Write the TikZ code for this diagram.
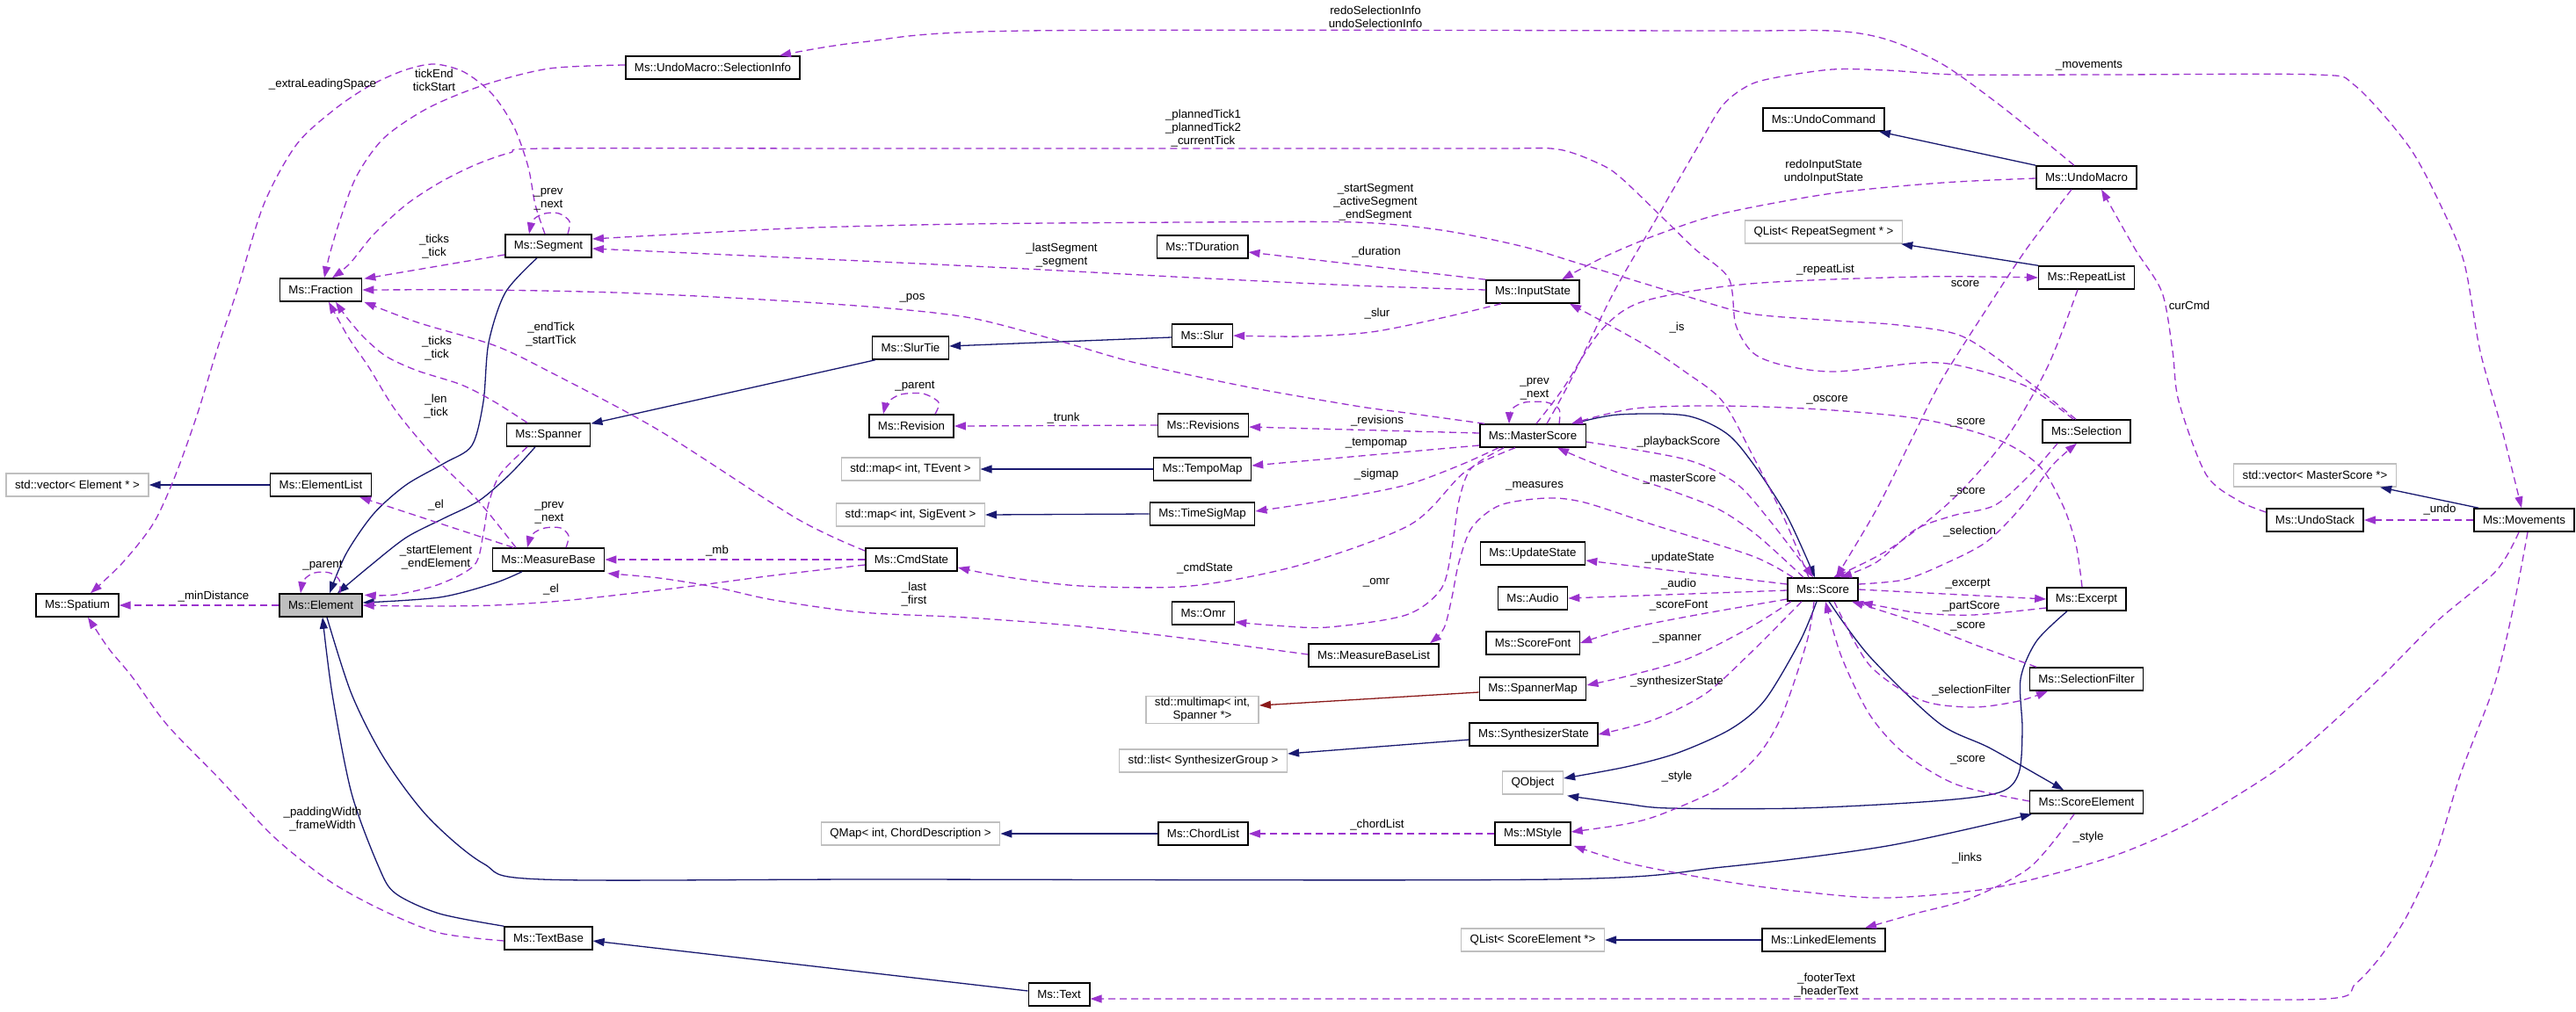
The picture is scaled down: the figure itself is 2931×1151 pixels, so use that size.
\documentclass[tikz,border=0pt]{standalone}
\usepackage{fontspec}
\setmainfont{Liberation Sans}
\usetikzlibrary{arrows.meta}
\definecolor{purp}{HTML}{9A32CD}
\definecolor{navy}{HTML}{191970}
\definecolor{dred}{HTML}{8B1A1A}
\definecolor{extb}{HTML}{BFBFBF}
\definecolor{elfill}{HTML}{BFBFBF}
\newcommand\gfont{\fontsize{13.3}{15}\selectfont}
\begin{document}
\begin{tikzpicture}[x=1pt,y=-1pt,
  cls/.style={draw=black, line width=1.5pt, fill=white, minimum height=26pt, inner xsep=10pt, inner ysep=2pt, font=\gfont},
  ext/.style={cls, draw=extb},
  uses/.style={draw=purp, line width=1.3pt, dash pattern=on 8pt off 5pt, -{Triangle[length=13pt,width=9pt]}},
  inh/.style={draw=navy, line width=1.3pt, -{Triangle[length=13pt,width=9pt]}},
  tmpl/.style={inh, draw=dred},
  lab/.style={font=\gfont, align=center, inner sep=0pt}]
\useasboundingbox[fill=white] (0,0) rectangle (2931,1151);

% ---------- nodes ----------
\node[cls] (selinfo) at (811,77) {Ms::UndoMacro::SelectionInfo};
\node[cls] (segment) at (624,280) {Ms::Segment};
\node[cls] (fraction) at (365,330) {Ms::Fraction};
\node[ext] (vecel) at (88,552) {std::vector< Element * >};
\node[cls] (elist) at (365,552) {Ms::ElementList};
\node[cls] (spanner) at (624,495) {Ms::Spanner};
\node[cls] (mbase) at (624,637) {Ms::MeasureBase};
\node[cls,fill=elfill] (element) at (365,689) {Ms::Element};
\node[cls] (spatium) at (88,689) {Ms::Spatium};
\node[cls] (textbase) at (624,1068) {Ms::TextBase};
\node[cls] (text) at (1205,1132) {Ms::Text};
\node[ext] (qmap) at (1036,949) {QMap< int, ChordDescription >};
\node[cls] (chordlist) at (1369,949) {Ms::ChordList};
\node[cls] (mstyle) at (1744,949) {Ms::MStyle};
\node[ext] (qlistse) at (1744,1070) {QList< ScoreElement *>};
\node[cls] (linked) at (2075,1070) {Ms::LinkedElements};
\node[cls] (scoreel) at (2374,913) {Ms::ScoreElement};
\node[ext] (qobject) at (1744,891) {QObject};
\node[ext] (stdlist) at (1369,866) {std::list< SynthesizerGroup >};
\node[cls] (synth) at (1745,836) {Ms::SynthesizerState};
\node[ext,align=center] (multimap) at (1368,808) {std::multimap< int,\\Spanner *>};
\node[cls] (spmap) at (1744,784) {Ms::SpannerMap};
\node[cls] (selfilter) at (2374,773) {Ms::SelectionFilter};
\node[cls] (mbl) at (1563,746) {Ms::MeasureBaseList};
\node[cls] (scorefont) at (1744,732) {Ms::ScoreFont};
\node[cls] (omr) at (1369,698) {Ms::Omr};
\node[cls] (audio) at (1744,681) {Ms::Audio};
\node[cls] (score) at (2074,671) {Ms::Score};
\node[cls] (excerpt) at (2374,682) {Ms::Excerpt};
\node[cls] (cmdstate) at (1037,637) {Ms::CmdState};
\node[cls] (upstate) at (1744,630) {Ms::UpdateState};
\node[cls] (undostack) at (2634,592) {Ms::UndoStack};
\node[cls] (movements) at (2872,592) {Ms::Movements};
\node[ext] (mapsig) at (1036,586) {std::map< int, SigEvent >};
\node[cls] (tsmap) at (1368,585) {Ms::TimeSigMap};
\node[ext] (vecms) at (2634,541) {std::vector< MasterScore *>};
\node[ext] (mapt) at (1036,534) {std::map< int, TEvent >};
\node[cls] (tempomap) at (1368,534) {Ms::TempoMap};
\node[cls] (master) at (1744,496) {Ms::MasterScore};
\node[cls] (revision) at (1037,485) {Ms::Revision};
\node[cls] (revisions) at (1369,484) {Ms::Revisions};
\node[cls] (selection) at (2374,491) {Ms::Selection};
\node[cls] (slurtie) at (1036,396) {Ms::SlurTie};
\node[cls] (slur) at (1368,382) {Ms::Slur};
\node[cls] (inputstate) at (1744,332) {Ms::InputState};
\node[cls] (tduration) at (1368,281) {Ms::TDuration};
\node[ext] (qlistrs) at (2075,264) {QList< RepeatSegment * >};
\node[cls] (repeatlist) at (2374,316) {Ms::RepeatList};
\node[cls] (undomacro) at (2374,202) {Ms::UndoMacro};
\node[cls] (undocmd) at (2075,136) {Ms::UndoCommand};

% ---------- inheritance (solid) ----------
\draw[inh] (undomacro.north west) -- ([xshift=63pt]undocmd.south);
\draw[inh] (repeatlist.north west) -- ([xshift=-2pt]qlistrs.south east);
\draw[inh] ([yshift=-2pt]slur.west) -- ([yshift=2pt]slurtie.east);
\draw[inh] ([xshift=4pt]slurtie.south west) -- ([yshift=-1pt]spanner.north east);
\draw[inh] plot[smooth] coordinates {([xshift=-15pt]spanner.south) (580,540) (545,570) (505,590) (462,612) (420,645) ([xshift=19pt]element.north)};
\draw[inh] plot[smooth] coordinates {([xshift=-13pt]segment.south) (575,333) (556,390) (550,457) (537,507) (506,527) (462,552) (425,585) (394,630) ([xshift=10pt]element.north)};
\draw[inh] plot[smooth] coordinates {([xshift=-30pt]mbase.south) (562,664) (500,680) ([yshift=3pt]element.east)};
\draw[inh] (elist.west) -- (vecel.east);
\draw[inh] (tempomap.west) -- (mapt.east);
\draw[inh] (tsmap.west) -- (mapsig.east);
\draw[inh] (chordlist.west) -- (qmap.east);
\draw[inh] ([yshift=-6pt]synth.west) -- ([yshift=8pt]stdlist.east);
\draw[tmpl] ([yshift=-4pt]spmap.west) -- ([yshift=5pt]multimap.east);
\draw[inh] (linked.west) -- (qlistse.east);
\draw[inh] ([xshift=6pt]movements.north west) -- ([xshift=-19pt]vecms.south east);
\draw[inh] plot[smooth] coordinates {([xshift=46pt]master.north) (1841,472) (1918,473) (1964,493) (1994,527) (2033,587) ([xshift=-9pt]score.north)};
\draw[inh] plot[smooth] coordinates {([xshift=-7pt]score.south) (2048,730) (2008,797) (1969,830) (1909,857) (1850,873) ([yshift=5pt]qobject.east)};
\draw[inh] plot[smooth] coordinates {([xshift=-22pt]excerpt.south) (2317,730) (2299,773) (2301,830) (2297,880) (2275,902) (2200,912) (2048,920) (1900,920) (1850,915) ([xshift=4pt,yshift=-1pt]qobject.south east)};
\draw[inh] plot[smooth] coordinates {([xshift=7pt]score.south) (2127,747) (2206,823) (2265,852) ([xshift=-26pt]scoreel.north)};
\draw[inh] plot[smooth] coordinates {([xshift=7pt]element.south) (400,790) (437,863) (487,930) (550,983) (616,1001) (1000,1001) (1767,1001) (1960,987) (2147,963) ([xshift=3pt]scoreel.south west)};
\draw[inh] plot[smooth] coordinates {(textbase.north west) (500,1040) (450,1017) (431,987) (400,903) (378,790) ([xshift=2pt]element.south)};
\draw[inh] ([yshift=4pt]text.west) -- ([yshift=-3pt]textbase.east);

% ---------- usage (dashed) ----------
\draw[uses] (element.west) -- (spatium.east);
\draw[uses] plot[smooth] coordinates {([xshift=-4pt]segment.north) (609,233) (601,190) (585,145) (560,107) (528,82) (494,73) (460,80) (420,98) (380,125) (337,165) (300,233) (269,333) (247,398) (225,470) (200,540) (175,595) (140,640) ([xshift=15pt]spatium.north)};
\draw[uses] plot[smooth] coordinates {([xshift=22pt]segment.north) (648,252) (636,243) (620,243) (607,250) ([xshift=-22pt]segment.north)};
\draw[uses] plot[smooth] coordinates {([yshift=3pt]selinfo.west) (625,78) (550,97) (487,123) (437,157) (406,200) (387,250) (375,290) ([xshift=4pt]fraction.north)};
\draw[uses] ([yshift=-10pt]segment.west) -- ([xshift=2pt,yshift=-1pt]fraction.north east);
\draw[uses] plot[smooth] coordinates {([xshift=-15pt]selection.north) (2306,440) (2233,417) (2185,413) (2088,423) (2030,416) (1995,402) (1975,370) (1967,317) (1928,283) (1894,250) (1845,203) (1821,187) (1773,170) (1700,169) (1400,169) (980,169) (620,169) (580,174) (540,188) (500,208) (462,233) (425,267) (398,300) ([xshift=13pt]fraction.north)};
\draw[uses] plot[smooth] coordinates {([xshift=6pt]master.north west) (1600,470) (1542,462) (1417,440) (1292,413) (1205,388) (1105,362) (1000,350) (850,340) (700,333) (550,330) (fraction.east)};
\draw[uses] plot[smooth] coordinates {([xshift=-24pt]spanner.north) (562,457) (525,438) (475,422) (440,406) (415,385) (395,362) ([xshift=17pt]fraction.south)};
\draw[uses] plot[smooth] coordinates {([xshift=-37pt]mbase.north) (544,570) (494,520) (450,467) (419,417) (397,385) ([xshift=9pt]fraction.south)};
\draw[uses] plot[smooth] coordinates {([yshift=10pt]cmdstate.west) (906,590) (750,490) (625,423) (562,393) (475,367) ([xshift=2pt]fraction.south east)};
\draw[uses] plot[smooth] coordinates {([xshift=-12pt]selection.north) (2306,433) (2233,383) (2160,370) (2088,365) (1991,357) (1918,337) (1797,300) (1730,280) (1640,262) (1542,253) (1355,253) (1100,255) (900,260) ([yshift=8pt]segment.east)};
\draw[uses] plot[smooth] coordinates {([yshift=2pt]inputstate.west) (1542,325) (1355,316) (1167,306) (980,297) ([yshift=-3pt]segment.east)};
\draw[uses] plot[smooth] coordinates {([xshift=-14pt]undomacro.north) (2322,157) (2272,117) (2210,73) (2147,45) (2085,35) (1960,35) (1167,35) (980,48) ([xshift=76pt]selinfo.north)};
\draw[uses] plot[smooth] coordinates {([yshift=-1pt]undomacro.west) (2210,208) (2085,220) (1960,243) (1886,267) (1824,293) ([xshift=33pt]inputstate.north)};
\draw[uses] plot[smooth] coordinates {([xshift=-16pt]score.north) (2030,590) (1995,520) (1960,457) (1917,423) (1867,390) ([xshift=42pt]inputstate.south)};
\draw[uses] (inputstate.north west) -- ([yshift=-6pt]tduration.east);
\draw[uses] plot[smooth] coordinates {([xshift=-36pt]inputstate.south) (1640,362) (1560,378) (1480,383) (slur.east)};
\draw[uses] plot[smooth] coordinates {([xshift=30pt]master.north) (1774,466) (1760,458) (1735,458) (1720,466) ([xshift=-27pt]master.north)};
\draw[uses] ([yshift=3pt]master.west) -- ([yshift=-2pt]revisions.east);
\draw[uses] ([yshift=-11pt]master.west) -- ([yshift=4pt]tempomap.east);
\draw[uses] plot[smooth] coordinates {([xshift=-39pt]master.south) (1660,530) (1600,552) (1520,568) ([yshift=3pt]tsmap.east)};
\draw[uses] plot[smooth] coordinates {([xshift=-20pt]master.south) (1667,537) (1605,597) (1480,643) (1355,667) (1230,667) (1140,656) ([yshift=-9pt]cmdstate.east)};
\draw[uses] plot[smooth] coordinates {([xshift=-33pt]master.south) (1674,533) (1660,570) (1652,623) (1640,670) (1600,700) (1511,714) (1450,712) ([yshift=-10pt]omr.east)};
\draw[uses] plot[smooth] coordinates {([xshift=-34pt]score.north) (1994,633) (1880,597) (1803,572) (1760,567) (1707,575) (1675,600) (1660,640) (1652,680) (1643,715) ([xshift=64pt]mbl.north)};
\draw[uses] plot[smooth] coordinates {([xshift=-22pt]score.north) (2000,610) (1956,580) (1900,558) (1841,538) (1800,522) ([xshift=28pt]master.south)};
\draw[uses] plot[smooth] coordinates {([yshift=-7pt]master.east) (1918,523) (1975,550) (2014,593) ([xshift=-11pt]score.north)};
\draw[uses] plot[smooth] coordinates {([xshift=-5pt]excerpt.north) (2362,620) (2347,575) (2320,530) (2272,500) (2186,477) (2071,466) (1956,462) (1860,465) ([xshift=44pt]master.north)};
\draw[uses] plot[smooth] coordinates {([xshift=-10pt]repeatlist.south) (2330,417) (2282,500) (2220,570) (2150,625) ([xshift=12pt]score.north)};
\draw[uses] plot[smooth] coordinates {([xshift=-17pt]undomacro.south) (2306,283) (2257,357) (2209,433) (2175,500) (2135,580) ([xshift=15pt]score.north)};
\draw[uses] plot[smooth] coordinates {([xshift=4pt]master.north) (1778,443) (1821,377) (1870,343) (1991,323) (2185,315) (repeatlist.west)};
\draw[uses] plot[smooth] coordinates {([xshift=16pt]master.north) (1787,433) (1836,333) (1884,250) (1930,170) (1960,120) (1990,97) (2022,88) (2085,79) (2147,80) (2229,85) (2400,85) (2635,85) (2679,97) (2741,167) (2780,240) (2804,300) (2822,400) (2847,490) ([xshift=-3pt]movements.north)};
\draw[uses] plot[smooth] coordinates {([yshift=9pt]undostack.west) (2547,570) (2510,540) (2479,457) (2472,400) (2460,333) (2429,283) ([xshift=17pt]undomacro.south)};
\draw[uses] plot[smooth] coordinates {([yshift=6pt]score.east) (2166,660) (2210,643) (2260,617) (2300,577) (2335,530) ([xshift=-11pt]selection.south)};
\draw[uses] plot[smooth] coordinates {([xshift=-33pt]selection.south) (2310,540) (2270,575) (2222,587) (2179,603) (2135,640) ([xshift=20pt]score.north)};
\draw[uses] (score.east) -- (excerpt.west);
\draw[uses] plot[smooth] coordinates {([yshift=-10pt]excerpt.west) (2245,700) (2186,698) (2150,692) ([xshift=3pt,yshift=-1pt]score.south east)};
\draw[uses] plot[smooth] coordinates {([xshift=-57pt]selfilter.north) (2250,735) (2180,708) ([xshift=33pt]score.south)};
\draw[uses] plot[smooth] coordinates {([xshift=13pt]score.south) (2127,757) (2186,797) (2245,805) (2297,798) ([xshift=-44pt]selfilter.south)};
\draw[uses] plot[smooth] coordinates {([yshift=1pt]scoreel.west) (2226,893) (2166,857) (2127,813) (2095,747) ([xshift=3pt]score.south)};
\draw[uses] ([yshift=6pt]score.west) -- ([yshift=-8pt]upstate.east);
\draw[uses] ([yshift=-1pt]score.west) -- (audio.east);
\draw[uses] plot[smooth] coordinates {([yshift=-11pt]score.west) (1930,700) (1850,716) (scorefont.east)};
\draw[uses] plot[smooth] coordinates {([xshift=-36pt]score.south) (1990,715) (1920,750) (1850,770) ([yshift=4pt]spmap.east)};
\draw[uses] plot[smooth] coordinates {([xshift=-24pt]score.south) (1990,745) (1940,790) (1880,820) (synth.east)};
\draw[uses] plot[smooth] coordinates {([xshift=-10pt]score.south) (2056,730) (2028,813) (2000,860) (1957,897) (1890,927) (1850,938) ([yshift=2pt]mstyle.east)};
\draw[uses] (mstyle.west) -- (chordlist.east);
\draw[uses] plot[smooth] coordinates {([xshift=-6pt]movements.south) (2840,650) (2773,707) (2710,770) (2640,835) (2585,880) (2491,937) (2397,977) (2272,1010) (2147,1022) (2050,1015) (1960,1003) (1855,983) ([xshift=3pt]mstyle.south east)};
\draw[uses] plot[smooth] coordinates {([xshift=4pt]movements.south) (2860,690) (2838,780) (2800,880) (2772,970) (2740,1040) (2710,1087) (2680,1120) (2647,1137) (2400,1137) (1800,1137) ([yshift=-5pt]text.east)};
\draw[uses] (movements.west) -- (undostack.east);
\draw[uses] plot[smooth] coordinates {([xshift=-14pt]scoreel.south) (2310,987) (2241,1023) (2179,1040) ([xshift=47pt]linked.north)};
\draw[uses] plot[smooth] coordinates {([xshift=27pt]revision.north) (1068,458) (1050,448) (1025,449) (1010,458) ([xshift=-32pt]revision.north)};
\draw[uses] (revisions.west) -- (revision.east);
\draw[uses] plot[smooth] coordinates {([xshift=22pt]element.north) (386,660) (375,652) (358,652) (346,660) ([xshift=-23pt]element.north)};
\draw[uses] plot[smooth] coordinates {([xshift=-24pt]spanner.south) (569,540) (556,573) (550,607) (540,643) (500,665) (450,677) ([xshift=2pt,yshift=-2pt]element.north east)};
\draw[uses] plot[smooth] coordinates {([xshift=20pt]mbase.north) (647,610) (638,601) (620,601) (606,608) ([xshift=-24pt]mbase.north)};
\draw[uses] ([xshift=-40pt]mbase.north) -- ([xshift=44pt]elist.south);
\draw[uses] (cmdstate.west) -- (mbase.east);
\draw[uses] plot[smooth] coordinates {([yshift=-6pt]cmdstate.west) (880,655) (781,668) (650,683) (562,689) (480,690) (element.east)};
\draw[uses] plot[smooth] coordinates {([yshift=1pt]mbl.west) (1360,728) (1230,713) (1100,703) (980,697) (880,683) (812,668) (750,658) ([xshift=3pt,yshift=-2pt]mbase.south east)};
\draw[uses] plot[smooth] coordinates {([yshift=-3pt]textbase.west) (500,1062) (437,1037) (375,1003) (312,953) (250,887) (190,825) (150,770) (125,740) (108,715) ([xshift=12pt]spatium.south)};

% ---------- labels ----------
\node[lab] (l1) at (243,679) {\_minDistance};
\node[lab] (l2) at (367,96) {\_extraLeadingSpace};
\node[lab] (l3) at (624,227) {\_prev\\\_next};
\node[lab] (l4) at (494,91) {tickEnd\\tickStart};
\node[lab] (l5) at (494,280) {\_ticks\\\_tick};
\node[lab] (l6) at (1369,146) {\_plannedTick1\\\_plannedTick2\\\_currentTick};
\node[lab] (l7) at (1038,339) {\_pos};
\node[lab] (l8) at (497,396) {\_ticks\\\_tick};
\node[lab] (l9) at (496,462) {\_len\\\_tick};
\node[lab] (l10) at (627,380) {\_endTick\\\_startTick};
\node[lab] (l11) at (1565,230) {\_startSegment\\\_activeSegment\\\_endSegment};
\node[lab] (l12) at (1208,291) {\_lastSegment\\\_segment};
\node[lab] (l13) at (1565,19) {redoSelectionInfo\\undoSelectionInfo};
\node[lab] (l14) at (2075,196) {redoInputState\\undoInputState};
\node[lab] (l15) at (1908,373) {\_is};
\node[lab] (l16) at (1566,287) {\_duration};
\node[lab] (l17) at (1567,357) {\_slur};
\node[lab] (l18) at (1746,443) {\_prev\\\_next};
\node[lab] (l19) at (1567,479) {\_revisions};
\node[lab] (l20) at (1566,505) {\_tempomap};
\node[lab] (l21) at (1566,540) {\_sigmap};
\node[lab] (l22) at (1371,647) {\_cmdState};
\node[lab] (l23) at (1566,663) {\_omr};
\node[lab] (l24) at (1746,553) {\_measures};
\node[lab] (l25) at (1911,545) {\_masterScore};
\node[lab] (l26) at (1910,503) {\_playbackScore};
\node[lab] (l27) at (2079,455) {\_oscore};
\node[lab] (l28) at (2239,481) {\_score};
\node[lab] (l29) at (2236,323) {score};
\node[lab] (l30) at (2077,307) {\_repeatList};
\node[lab] (l31) at (2377,75) {\_movements};
\node[lab] (l32) at (2491,348) {curCmd};
\node[lab] (l33) at (2241,605) {\_selection};
\node[lab] (l34) at (2239,560) {\_score};
\node[lab] (l35) at (2239,665) {\_excerpt};
\node[lab] (l36) at (2243,690) {\_partScore};
\node[lab] (l37) at (2239,713) {\_score};
\node[lab] (l38) at (2243,786) {\_selectionFilter};
\node[lab] (l39) at (2239,865) {\_score};
\node[lab] (l40) at (1911,635) {\_updateState};
\node[lab] (l41) at (1910,665) {\_audio};
\node[lab] (l42) at (1910,689) {\_scoreFont};
\node[lab] (l43) at (1908,727) {\_spanner};
\node[lab] (l44) at (1908,776) {\_synthesizerState};
\node[lab] (l45) at (1908,884) {\_style};
\node[lab] (l46) at (1567,939) {\_chordList};
\node[lab] (l47) at (2376,953) {\_style};
\node[lab] (l48) at (2078,1121) {\_footerText\\\_headerText};
\node[lab] (l49) at (2776,580) {\_undo};
\node[lab] (l50) at (2238,977) {\_links};
\node[lab] (l51) at (1041,440) {\_parent};
\node[lab] (l52) at (1210,476) {\_trunk};
\node[lab] (l53) at (367,644) {\_parent};
\node[lab] (l54) at (496,634) {\_startElement\\\_endElement};
\node[lab] (l55) at (625,584) {\_prev\\\_next};
\node[lab] (l56) at (496,575) {\_el};
\node[lab] (l57) at (816,627) {\_mb};
\node[lab] (l58) at (627,671) {\_el};
\node[lab] (l59) at (1040,676) {\_last\\\_first};
\node[lab] (l60) at (367,932) {\_paddingWidth\\\_frameWidth};
\end{tikzpicture}
\end{document}
